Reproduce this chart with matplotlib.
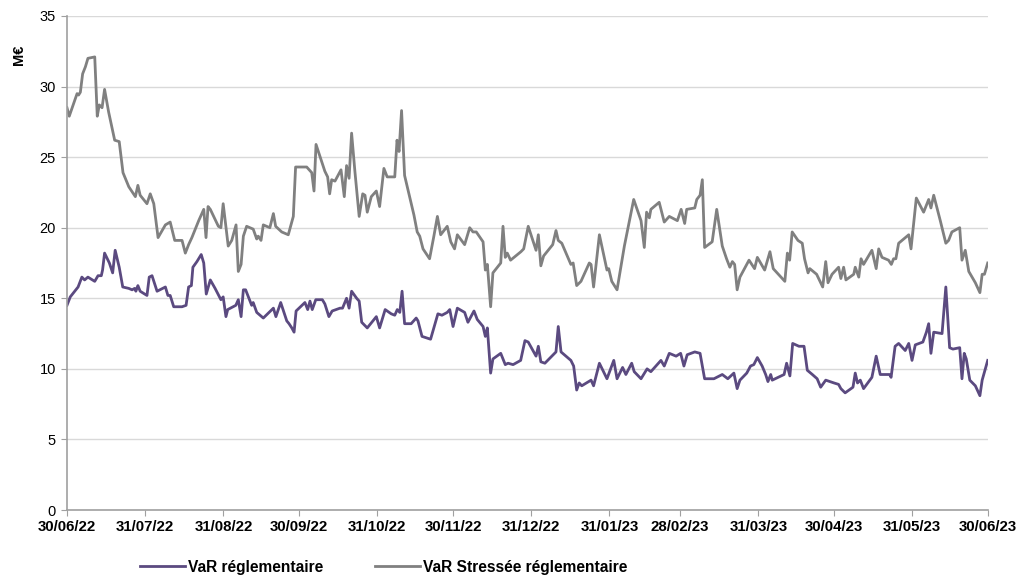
import pandas as pd
import matplotlib
matplotlib.use('Agg')
import matplotlib.pyplot as plt

plt.rcParams['font.family'] = ['Liberation Sans', 'DejaVu Sans']

# Jours écoulés depuis le 30/06/22 et valeurs lues (M€)
start = pd.Timestamp('2022-06-30')

var_days = [0.0, 1.3, 4.4, 5.9, 7.0, 8.3, 11.0, 12.3, 13.6, 14.1, 14.9, 16.8, 18.1, 19.1, 20.7, 22.1,
            24.5, 25.8, 26.8, 27.3, 28.1, 29.0, 31.7, 32.6, 33.7, 35.7, 39.0, 40.0, 40.9, 42.3, 45.6,
            47.2, 48.2, 49.3, 49.9, 51.5, 53.2, 54.2, 55.2, 56.8, 58.7, 61.0, 61.9, 63.0, 63.7, 66.9,
            67.9, 69.0, 69.9, 70.8, 73.2, 73.8, 75.2, 77.8, 81.8, 82.8, 84.7, 87.1, 88.0, 89.1, 90.0,
            90.8, 94.3, 95.4, 96.3, 97.2, 98.6, 101.2, 102.2, 103.8, 105.1, 108.2, 109.2, 110.8, 111.8,
            112.8, 114.8, 115.8, 116.8, 119.0, 122.6, 123.9, 126.1, 128.5, 129.9, 130.9, 131.9, 132.8,
            133.8, 136.4, 138.4, 139.1, 140.7, 142.4, 144.1, 147.0, 148.6, 150.7, 151.7, 153.0, 154.7,
            157.6, 158.9, 161.3, 162.6, 164.9, 165.8, 166.6, 167.9, 168.8, 171.9, 173.7, 174.8, 176.8,
            179.8, 181.5, 182.8, 185.9, 186.8, 187.8, 189.4, 193.8, 194.7, 195.8, 199.7, 200.8, 202.0,
            203.0, 204.0, 207.7, 208.7, 211.0, 214.0, 216.7, 218.0, 220.2, 221.5, 223.8, 224.8, 227.5,
            229.9, 231.4, 235.4, 236.7, 238.7, 241.4, 243.2, 244.5, 245.8, 248.8, 250.9, 252.7, 256.4,
            259.7, 261.9, 264.3, 265.6, 266.7, 269.4, 270.9, 272.2, 273.6, 275.5, 276.9, 277.8, 278.9,
            279.5, 284.2, 285.2, 286.5, 287.6, 290.1, 292.1, 293.4, 295.4, 297.3, 298.7, 300.7, 304.0,
            305.8, 306.7, 308.4, 311.5, 312.4, 313.3, 314.4, 315.7, 319.0, 320.7, 322.3, 324.7, 326.0,
            326.6, 328.2, 329.6, 332.2, 333.6, 334.9, 336.2, 339.2, 340.6, 341.5, 342.4, 343.5, 346.8,
            348.3, 349.8, 351.1, 353.8, 354.7, 355.6, 356.4, 357.8, 360.0, 361.8, 362.7, 364.9]
var_vals = [14.5, 15.1, 15.8, 16.5, 16.3, 16.5, 16.2, 16.6, 16.6, 17.0, 18.2, 17.5, 16.8, 18.4, 17.2, 15.8,
            15.7, 15.6, 15.7, 15.5, 15.9, 15.5, 15.2, 16.5, 16.6, 15.5, 15.8, 15.2, 15.2, 14.4, 14.4,
            14.5, 15.8, 15.9, 17.2, 17.6, 18.1, 17.5, 15.3, 16.3, 15.7, 14.9, 15.1, 13.7, 14.2, 14.5,
            14.9, 13.7, 15.6, 15.6, 14.5, 14.7, 14.0, 13.6, 14.3, 13.7, 14.7, 13.4, 13.2, 12.9, 12.6,
            14.1, 14.7, 14.2, 14.8, 14.2, 14.9, 14.9, 14.6, 13.7, 14.1, 14.3, 14.3, 15.0, 14.3,
            15.5, 15.0, 14.8, 13.3, 12.9, 13.7, 12.9, 14.2, 13.9, 13.8, 14.2, 14.0, 15.5,
            13.2, 13.2, 13.6, 13.4, 12.3, 12.2, 12.1, 13.9, 13.8, 14.0, 14.2, 13.0, 14.3,
            14.0, 13.3, 14.1, 13.5, 13.0, 12.3, 12.9, 9.7, 10.7, 11.1, 10.3, 10.4, 10.3,
            10.6, 12.0, 11.9, 10.9, 11.6, 10.5, 10.4, 11.2, 13.0, 11.2, 10.6, 10.2, 8.5,
            9.0, 8.8, 9.2, 8.8, 10.4, 9.3, 10.6, 9.3, 10.1, 9.6, 10.4, 9.8, 9.3,
            10.0, 9.8, 10.6, 10.2, 11.1, 10.9, 11.1, 10.2, 11.0, 11.2, 11.1, 9.3, 9.3,
            9.6, 9.3, 9.7, 8.6, 9.2, 9.7, 10.2, 10.3, 10.8, 10.2, 9.6, 9.1, 9.6,
            9.2, 9.6, 10.4, 9.5, 11.8, 11.6, 11.6, 9.9, 9.6, 9.3, 8.7, 9.2, 9.0,
            8.9, 8.6, 8.3, 8.7, 9.7, 9.0, 9.2, 8.6, 9.4, 10.9, 9.6, 9.6, 9.6,
            9.4, 11.6, 11.8, 11.3, 11.8, 10.6, 11.7, 11.9, 12.6, 13.2, 11.1, 12.6, 12.5,
            15.8, 11.5, 11.4, 11.5, 9.3, 11.1, 10.7, 9.2, 8.8, 8.1, 9.2, 10.6]

svar_days = [0.0, 0.9, 4.0, 4.6, 5.3, 6.2, 7.3, 8.3, 11.0, 12.0, 12.8, 13.9, 14.9, 16.5, 18.9, 20.7,
             22.2, 24.5, 27.1, 28.1, 29.0, 31.7, 33.0, 34.4, 36.1, 39.0, 40.9, 42.7, 45.6, 46.9, 48.2,
             49.5, 52.2, 54.2, 55.1, 55.9, 56.8, 60.0, 61.0, 61.9, 63.9, 65.3, 67.0, 67.9, 69.0, 69.9,
             71.2, 73.8, 75.2, 75.8, 76.9, 77.8, 80.4, 81.8, 82.7, 85.1, 87.7, 89.7, 90.6, 93.0, 95.0,
             97.0, 97.9, 98.7, 100.9, 102.2, 103.3, 104.1, 104.9, 106.2, 108.6, 109.9, 110.8, 111.8,
             112.8, 114.1, 115.8, 117.2, 118.1, 119.0, 120.6, 122.6, 123.9, 125.6, 126.9, 129.9, 130.8,
             131.6, 132.6, 133.8, 135.8, 137.5, 138.8, 139.8, 141.1, 143.7, 145.4, 146.8, 148.1, 150.7,
             152.1, 153.6, 154.7, 157.6, 159.6, 160.9, 162.2, 164.9, 165.8, 166.6, 167.9, 168.8, 171.9,
             172.8, 173.7, 174.5, 175.8, 179.9, 181.0, 182.8, 185.9, 186.8, 187.8, 188.9, 192.5, 193.8,
             194.7, 196.1, 199.7, 200.6, 202.0, 203.7, 207.0, 207.7, 208.7, 211.0, 214.0, 214.7, 215.9,
             218.0, 220.9, 224.6, 227.5, 228.8, 229.7, 230.8, 231.4, 234.7, 236.7, 238.7, 241.9, 243.4,
             244.8, 245.6, 248.8, 249.6, 250.9, 251.8, 252.7, 255.7, 257.5, 259.7, 261.4, 262.7, 263.7,
             264.6, 265.6, 266.7, 270.3, 272.5, 273.6, 276.5, 278.6, 279.9, 284.5, 285.5, 286.4, 287.4,
             289.7, 291.4, 292.3, 293.7, 294.4, 297.1, 299.5, 300.7, 301.6, 303.2, 305.8, 306.7, 307.8,
             308.7, 311.8, 312.4, 313.8, 314.7, 315.7, 319.0, 320.7, 321.7, 323.0, 325.6, 326.7, 327.6,
             328.5, 329.6, 333.6, 334.5, 336.6, 339.5, 341.5, 342.4, 343.5, 346.1, 348.3, 349.4, 350.7,
             353.8, 354.7, 356.0, 357.4, 360.0, 361.8, 362.7, 363.6, 364.9]
svar_vals = [28.5, 27.9, 29.5, 29.4, 29.6, 30.9, 31.4, 32.0, 32.1, 27.9, 28.7, 28.5, 29.8, 28.2, 26.2, 26.1,
             23.9, 22.9, 22.2, 23.0, 22.3, 21.7, 22.4, 21.7, 19.3, 20.2, 20.4, 19.1, 19.1, 18.2, 18.8,
             19.3, 20.5, 21.3, 19.3, 21.5, 21.3, 20.1, 20.0, 21.7, 18.7, 19.1, 20.2, 16.9, 17.4, 19.4,
             20.1, 19.9, 19.2, 19.4, 19.1, 20.2, 20.0, 21.0, 20.1, 19.7, 19.5, 20.8, 24.3, 24.3, 24.3,
             23.9, 22.6, 25.9, 24.7, 24.0, 23.6, 22.4, 23.4, 23.3, 24.1, 22.2, 24.4, 23.5,
             26.7, 24.0, 20.8, 22.4, 22.3, 21.1, 22.2, 22.6, 21.5, 24.2, 23.6, 23.6, 26.2,
             25.4, 28.3, 23.7, 22.2, 20.9, 19.7, 19.4, 18.5, 17.8, 19.4, 20.8, 19.5, 20.1,
             19.0, 18.5, 19.5, 18.8, 20.0, 19.7, 19.7, 19.0, 17.0, 17.4, 14.4, 16.8, 17.5,
             20.1, 17.9, 18.2, 17.7, 18.3, 18.5, 20.1, 18.4, 19.5, 17.3, 18.0, 18.8, 19.8,
             19.1, 18.9, 17.4, 17.5, 15.9, 16.2, 17.5, 17.4, 15.8, 19.5, 17.0, 17.1, 16.2,
             15.6, 18.7, 22.0, 20.5, 18.6, 21.1, 20.7, 21.3, 21.8, 20.4, 20.8, 20.5, 21.3,
             20.3, 21.3, 21.4, 22.0, 22.3, 23.4, 18.6, 19.0, 21.3, 18.7, 17.8, 17.2, 17.6,
             17.4, 15.6, 16.5, 17.7, 17.1, 17.9, 17.0, 18.3, 17.1, 16.2, 18.2, 17.7, 19.7,
             19.1, 18.9, 17.8, 16.8, 17.1, 16.7, 15.8, 17.6, 16.1, 16.7, 17.2, 16.4, 17.2,
             16.3, 16.7, 17.2, 16.5, 17.8, 17.4, 18.4, 17.1, 18.5, 17.9, 17.7, 17.4, 17.8,
             17.8, 18.9, 19.5, 18.5, 22.1, 21.1, 22.0, 21.4, 22.3, 20.5, 18.9, 19.1, 19.7,
             20.0, 17.7, 18.4, 16.9, 16.1, 15.4, 16.7, 16.7, 17.5]

tick_dates = ['2022-06-30', '2022-07-31', '2022-08-31', '2022-09-30', '2022-10-31', '2022-11-30',
              '2022-12-31', '2023-01-31', '2023-02-28', '2023-03-31', '2023-04-30', '2023-05-31',
              '2023-06-30']
tick_labels = ['30/06/22', '31/07/22', '31/08/22', '30/09/22', '31/10/22', '30/11/22', '31/12/22',
               '31/01/23', '28/02/23', '31/03/23', '30/04/23', '31/05/23', '30/06/23']

var_x = start + pd.to_timedelta(var_days, unit='D')
svar_x = start + pd.to_timedelta(svar_days, unit='D')

fig = plt.figure(figsize=(10.18, 5.77), dpi=100)
ax = fig.add_axes([0.0658, 0.1161, 0.9047, 0.8562])

ax.plot(var_x, var_vals, color='#5b4a80', linewidth=2.0, label='VaR réglementaire')
ax.plot(svar_x, svar_vals, color='#808080', linewidth=2.0, label='VaR Stressée réglementaire')

ax.set_ylim(0, 35)
ax.set_yticks(range(0, 36, 5))
ax.set_xlim(pd.Timestamp(tick_dates[0]), pd.Timestamp(tick_dates[-1]))
ax.set_xticks(pd.to_datetime(tick_dates))
ax.set_xticklabels(tick_labels, fontweight='bold', fontsize=10.8)
ax.tick_params(axis='y', labelsize=10.5, length=4, color='#a0a0a0', pad=4)
ax.tick_params(axis='x', length=4, color='#a0a0a0', pad=3)

ax.grid(True, axis='y', color='#d9d9d9', linewidth=1)
ax.set_axisbelow(True)
for s in ['top', 'right']:
    ax.spines[s].set_visible(False)
for s in ['left', 'bottom']:
    ax.spines[s].set_color('#a0a0a0')
    ax.spines[s].set_linewidth(1.2)

fig.text(0.012, 0.905, 'M€', rotation=90, fontweight='bold', fontsize=10.5, ha='left', va='center')

fig.legend(loc='center', bbox_to_anchor=(0.3767, 0.017), ncol=2, frameon=False,
           prop={'weight': 'bold', 'size': 11.2}, handlelength=2.9, columnspacing=3.3,
           handletextpad=0.2, borderpad=0.1)

fig.savefig('out.png', dpi=100)
